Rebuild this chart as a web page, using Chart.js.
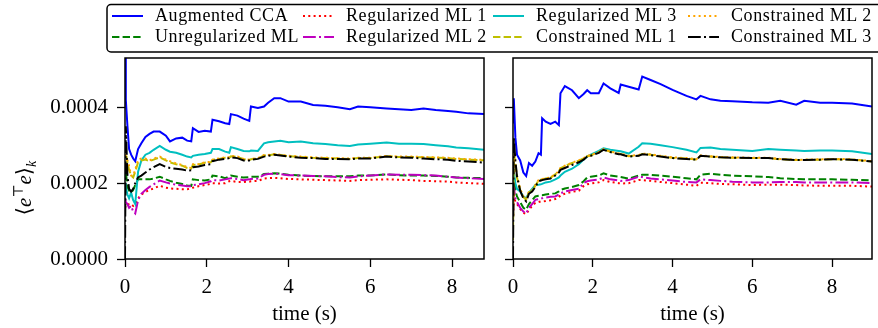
<!DOCTYPE html>
<html>
<head>
<meta charset="utf-8">
<script src="https://cdn.jsdelivr.net/npm/chart.js@4.4.1/dist/chart.umd.min.js"></script>
<style>
  body { margin: 0; background: #fff; overflow: hidden; }
  #wrap { position: relative; width: 878px; height: 328px; }
  #wrap canvas, #wrap svg { position: absolute; left: 0; top: 0; }
</style>
</head>
<body>
<div id="wrap">
  <canvas id="leftChart" width="878" height="328"></canvas>
  <canvas id="rightChart" width="878" height="328"></canvas>
  <svg id="overlay" width="878" height="328" xmlns="http://www.w3.org/2000/svg"></svg>
</div>
<script>
// series in plotting order
const seriesNames = ["Augmented CCA", "Unregularized ML", "Regularized ML 1", "Regularized ML 2",
  "Regularized ML 3", "Constrained ML 1", "Constrained ML 2", "Constrained ML 3"];

const xTicks = [0, 2, 4, 6, 8];
const xTickLabels = ["0", "2", "4", "6", "8"];
const yTicks = [0, 0.0002, 0.0004];
const yTickLabels = ["0.0000", "0.0002", "0.0004"];

// left panel, time (s)
const tLeft = [0, 0.02, 0.06, 0.1, 0.15, 0.2, 0.25, 0.32, 0.4, 0.5, 0.6, 0.7, 0.85, 1.0, 1.1, 1.25, 1.4, 1.52, 1.62, 1.66,
  1.8, 1.95, 2.1, 2.14, 2.3, 2.45, 2.55, 2.59, 2.75, 2.9, 3.04, 3.08, 3.25, 3.4, 3.5, 3.65, 3.8, 4.0, 4.3, 4.6,
  4.9, 5.2, 5.5, 5.7, 6.0, 6.4, 6.7, 7.0, 7.3, 7.6, 7.9, 8.1, 8.4, 8.8];

const augCcaLeft = [5.6e-4, 4.2e-4, 3.5e-4, 2.9e-4, 2.75e-4, 2.65e-4, 2.58e-4, 2.9e-4, 3.05e-4, 3.22e-4, 3.3e-4, 3.36e-4, 3.36e-4, 3.25e-4, 3.1e-4, 3.18e-4, 3.2e-4, 3.12e-4, 3.1e-4, 3.45e-4,
  3.35e-4, 3.38e-4, 3.36e-4, 3.67e-4, 3.63e-4, 3.58e-4, 3.56e-4, 3.82e-4, 3.78e-4, 3.7e-4, 3.64e-4, 4.02e-4, 3.98e-4, 4.02e-4, 4.12e-4, 4.24e-4, 4.24e-4, 4.15e-4, 4.15e-4, 4.06e-4,
  4.04e-4, 4.0e-4, 3.95e-4, 4.02e-4, 4.0e-4, 3.97e-4, 3.95e-4, 3.93e-4, 3.97e-4, 3.93e-4, 3.9e-4, 3.88e-4, 3.84e-4, 3.82e-4];
const unregLeft = [1.8e-4, 2.3e-4, 1.9e-4, 1.8e-4, 1.75e-4, 1.82e-4, 1.95e-4, 2.1e-4, 2.1e-4, 2.1e-4, 2.1e-4, 2.12e-4, 2.17e-4, 2.1e-4, 2.06e-4, 2.01e-4, 1.98e-4, 1.94e-4, 1.93e-4, 2.1e-4,
  2.08e-4, 2.07e-4, 2.1e-4, 2.2e-4, 2.18e-4, 2.13e-4, 2.18e-4, 2.2e-4, 2.17e-4, 2.15e-4, 2.16e-4, 2.17e-4, 2.17e-4, 2.24e-4, 2.25e-4, 2.26e-4, 2.25e-4, 2.22e-4, 2.2e-4, 2.19e-4,
  2.18e-4, 2.18e-4, 2.18e-4, 2.2e-4, 2.2e-4, 2.23e-4, 2.21e-4, 2.2e-4, 2.2e-4, 2.19e-4, 2.17e-4, 2.15e-4, 2.14e-4, 2.13e-4];
const reg1Left = [1.4e-4, 1.35e-4, 1.4e-4, 1.45e-4, 1.45e-4, 1.4e-4, 1.45e-4, 1.6e-4, 1.7e-4, 1.77e-4, 1.82e-4, 1.86e-4, 1.93e-4, 1.88e-4, 1.86e-4, 1.85e-4, 1.84e-4, 1.84e-4, 1.86e-4, 1.88e-4,
  1.92e-4, 1.95e-4, 1.98e-4, 2.0e-4, 1.99e-4, 2.0e-4, 2.05e-4, 2.06e-4, 2.03e-4, 2.03e-4, 2.04e-4, 2.05e-4, 2.06e-4, 2.12e-4, 2.13e-4, 2.14e-4, 2.13e-4, 2.11e-4, 2.1e-4, 2.09e-4,
  2.08e-4, 2.07e-4, 2.06e-4, 2.08e-4, 2.09e-4, 2.1e-4, 2.09e-4, 2.08e-4, 2.06e-4, 2.05e-4, 2.04e-4, 2.02e-4, 2.0e-4, 1.98e-4];
const reg2Left = [1.6e-4, 1.5e-4, 1.45e-4, 1.35e-4, 1.4e-4, 1.25e-4, 1.2e-4, 1.55e-4, 1.72e-4, 1.82e-4, 1.9e-4, 1.97e-4, 2.07e-4, 2.02e-4, 1.99e-4, 1.96e-4, 1.94e-4, 1.92e-4, 1.92e-4, 1.95e-4,
  1.97e-4, 2.0e-4, 2.05e-4, 2.08e-4, 2.07e-4, 2.1e-4, 2.12e-4, 2.13e-4, 2.11e-4, 2.08e-4, 2.1e-4, 2.11e-4, 2.12e-4, 2.22e-4, 2.24e-4, 2.25e-4, 2.24e-4, 2.21e-4, 2.2e-4, 2.19e-4,
  2.18e-4, 2.16e-4, 2.15e-4, 2.18e-4, 2.2e-4, 2.23e-4, 2.22e-4, 2.22e-4, 2.21e-4, 2.2e-4, 2.17e-4, 2.15e-4, 2.13e-4, 2.11e-4];
const reg3Left = [2.0e-4, 1.9e-4, 1.7e-4, 1.6e-4, 1.75e-4, 1.55e-4, 1.45e-4, 2.3e-4, 2.6e-4, 2.75e-4, 2.8e-4, 2.88e-4, 2.98e-4, 2.88e-4, 2.83e-4, 2.8e-4, 2.75e-4, 2.7e-4, 2.68e-4, 2.72e-4,
  2.75e-4, 2.77e-4, 2.8e-4, 2.9e-4, 2.9e-4, 2.83e-4, 2.8e-4, 2.95e-4, 2.9e-4, 2.85e-4, 2.84e-4, 2.86e-4, 2.85e-4, 3.05e-4, 3.08e-4, 3.1e-4, 3.12e-4, 3.08e-4, 3.1e-4, 3.05e-4,
  3.03e-4, 3.0e-4, 2.98e-4, 3.02e-4, 3.04e-4, 3.07e-4, 3.04e-4, 3.04e-4, 3.03e-4, 3.0e-4, 2.97e-4, 2.94e-4, 2.92e-4, 2.88e-4];
const con1Left = [3.0e-4, 2.8e-4, 2.55e-4, 2.35e-4, 2.2e-4, 2.15e-4, 2.3e-4, 2.55e-4, 2.6e-4, 2.62e-4, 2.58e-4, 2.62e-4, 2.68e-4, 2.6e-4, 2.55e-4, 2.5e-4, 2.46e-4, 2.4e-4, 2.38e-4, 2.48e-4,
  2.49e-4, 2.54e-4, 2.55e-4, 2.61e-4, 2.64e-4, 2.67e-4, 2.67e-4, 2.71e-4, 2.69e-4, 2.63e-4, 2.61e-4, 2.63e-4, 2.65e-4, 2.73e-4, 2.73e-4, 2.76e-4, 2.74e-4, 2.71e-4, 2.69e-4, 2.67e-4,
  2.66e-4, 2.65e-4, 2.64e-4, 2.66e-4, 2.66e-4, 2.71e-4, 2.69e-4, 2.69e-4, 2.68e-4, 2.67e-4, 2.66e-4, 2.64e-4, 2.62e-4, 2.6e-4];
const con2Left = [2.9e-4, 2.7e-4, 2.6e-4, 2.45e-4, 2.2e-4, 2.2e-4, 2.35e-4, 2.62e-4, 2.65e-4, 2.65e-4, 2.6e-4, 2.65e-4, 2.7e-4, 2.62e-4, 2.58e-4, 2.52e-4, 2.48e-4, 2.42e-4, 2.4e-4, 2.5e-4,
  2.5e-4, 2.55e-4, 2.56e-4, 2.62e-4, 2.65e-4, 2.68e-4, 2.68e-4, 2.72e-4, 2.7e-4, 2.64e-4, 2.62e-4, 2.64e-4, 2.66e-4, 2.74e-4, 2.74e-4, 2.77e-4, 2.75e-4, 2.72e-4, 2.7e-4, 2.68e-4,
  2.67e-4, 2.66e-4, 2.65e-4, 2.67e-4, 2.67e-4, 2.72e-4, 2.7e-4, 2.7e-4, 2.69e-4, 2.68e-4, 2.67e-4, 2.65e-4, 2.63e-4, 2.61e-4];
const con3Left = [0, 3.5e-4, 2.2e-4, 1.85e-4, 1.78e-4, 1.85e-4, 2.0e-4, 2.15e-4, 2.2e-4, 2.28e-4, 2.36e-4, 2.42e-4, 2.5e-4, 2.43e-4, 2.4e-4, 2.38e-4, 2.36e-4, 2.33e-4, 2.34e-4, 2.42e-4,
  2.44e-4, 2.48e-4, 2.5e-4, 2.58e-4, 2.62e-4, 2.64e-4, 2.66e-4, 2.68e-4, 2.66e-4, 2.6e-4, 2.6e-4, 2.62e-4, 2.64e-4, 2.7e-4, 2.72e-4, 2.75e-4, 2.73e-4, 2.7e-4, 2.67e-4, 2.66e-4,
  2.64e-4, 2.64e-4, 2.63e-4, 2.65e-4, 2.65e-4, 2.7e-4, 2.68e-4, 2.67e-4, 2.65e-4, 2.63e-4, 2.62e-4, 2.59e-4, 2.57e-4, 2.54e-4];

// right panel, time (s)
const tRight = [0, 0.02, 0.06, 0.1, 0.18, 0.26, 0.33, 0.4, 0.48, 0.56, 0.64, 0.7, 0.73, 0.82, 0.94, 1.06, 1.15, 1.19, 1.3, 1.48,
  1.65, 1.77, 1.86, 1.95, 2.15, 2.27, 2.44, 2.65, 2.7, 2.9, 3.15, 3.24, 3.45, 3.7, 4.0, 4.35, 4.6, 4.7, 4.95, 5.2,
  5.5, 6.0, 6.4, 6.7, 7.1, 7.3, 7.7, 8.0, 8.5, 9.0];

const augCcaRight = [3.6e-4, 4.24e-4, 3.2e-4, 2.75e-4, 2.6e-4, 2.28e-4, 2.19e-4, 2.53e-4, 2.46e-4, 2.57e-4, 2.79e-4, 2.75e-4, 3.71e-4, 3.62e-4, 3.56e-4, 3.62e-4, 3.53e-4, 4.37e-4, 4.56e-4, 4.45e-4,
  4.24e-4, 4.35e-4, 4.45e-4, 4.37e-4, 4.37e-4, 4.63e-4, 4.5e-4, 4.38e-4, 4.6e-4, 4.54e-4, 4.47e-4, 4.81e-4, 4.72e-4, 4.61e-4, 4.46e-4, 4.3e-4, 4.21e-4, 4.3e-4, 4.21e-4, 4.17e-4,
  4.16e-4, 4.13e-4, 4.12e-4, 4.17e-4, 4.07e-4, 4.17e-4, 4.12e-4, 4.12e-4, 4.1e-4, 4.02e-4];
const unregRight = [1.0e-4, 2.2e-4, 1.8e-4, 1.65e-4, 1.5e-4, 1.35e-4, 1.3e-4, 1.45e-4, 1.55e-4, 1.65e-4, 1.67e-4, 1.68e-4, 1.68e-4, 1.7e-4, 1.72e-4, 1.73e-4, 1.78e-4, 1.82e-4, 1.86e-4, 1.9e-4,
  1.95e-4, 2.05e-4, 2.15e-4, 2.17e-4, 2.2e-4, 2.26e-4, 2.2e-4, 2.17e-4, 2.16e-4, 2.12e-4, 2.2e-4, 2.22e-4, 2.22e-4, 2.2e-4, 2.17e-4, 2.13e-4, 2.1e-4, 2.22e-4, 2.25e-4, 2.22e-4,
  2.2e-4, 2.18e-4, 2.16e-4, 2.13e-4, 2.11e-4, 2.1e-4, 2.1e-4, 2.1e-4, 2.09e-4, 2.07e-4];
const reg1Right = [1.0e-4, 1.7e-4, 1.5e-4, 1.45e-4, 1.32e-4, 1.22e-4, 1.18e-4, 1.3e-4, 1.4e-4, 1.48e-4, 1.5e-4, 1.52e-4, 1.52e-4, 1.53e-4, 1.55e-4, 1.58e-4, 1.63e-4, 1.68e-4, 1.72e-4, 1.77e-4,
  1.8e-4, 1.92e-4, 1.97e-4, 1.99e-4, 2.02e-4, 2.08e-4, 2.03e-4, 2.0e-4, 1.99e-4, 2.0e-4, 2.08e-4, 2.08e-4, 2.06e-4, 2.03e-4, 2.0e-4, 1.96e-4, 1.93e-4, 2.01e-4, 2.0e-4, 1.98e-4,
  1.97e-4, 1.95e-4, 1.96e-4, 1.96e-4, 1.95e-4, 1.94e-4, 1.93e-4, 1.93e-4, 1.93e-4, 1.91e-4];
const reg2Right = [1.2e-4, 1.9e-4, 1.6e-4, 1.5e-4, 1.35e-4, 1.25e-4, 1.2e-4, 1.35e-4, 1.45e-4, 1.56e-4, 1.58e-4, 1.6e-4, 1.6e-4, 1.62e-4, 1.64e-4, 1.65e-4, 1.7e-4, 1.73e-4, 1.78e-4, 1.82e-4,
  1.85e-4, 2.0e-4, 2.05e-4, 2.07e-4, 2.1e-4, 2.15e-4, 2.1e-4, 2.07e-4, 2.06e-4, 2.08e-4, 2.17e-4, 2.16e-4, 2.12e-4, 2.1e-4, 2.07e-4, 2.03e-4, 2.02e-4, 2.1e-4, 2.08e-4, 2.06e-4,
  2.04e-4, 2.02e-4, 2.02e-4, 2.03e-4, 2.03e-4, 2.02e-4, 2.02e-4, 2.02e-4, 2.02e-4, 2.0e-4];
const reg3Right = [2.0e-4, 2.3e-4, 2.0e-4, 1.85e-4, 1.78e-4, 1.65e-4, 1.6e-4, 1.75e-4, 1.85e-4, 1.95e-4, 1.96e-4, 1.97e-4, 1.98e-4, 2.02e-4, 2.04e-4, 2.1e-4, 2.15e-4, 2.2e-4, 2.3e-4, 2.38e-4,
  2.5e-4, 2.62e-4, 2.7e-4, 2.75e-4, 2.85e-4, 2.92e-4, 2.88e-4, 2.85e-4, 2.84e-4, 2.78e-4, 2.96e-4, 3.05e-4, 3.04e-4, 3.0e-4, 2.95e-4, 2.88e-4, 2.81e-4, 2.93e-4, 2.94e-4, 2.9e-4,
  2.88e-4, 2.85e-4, 2.9e-4, 2.88e-4, 2.86e-4, 2.85e-4, 2.86e-4, 2.86e-4, 2.84e-4, 2.77e-4];
const con1Right = [0.5e-4, 2.9e-4, 2.45e-4, 2.15e-4, 1.82e-4, 1.63e-4, 1.56e-4, 1.76e-4, 1.8e-4, 1.93e-4, 2.07e-4, 2.09e-4, 2.1e-4, 2.12e-4, 2.14e-4, 2.23e-4, 2.31e-4, 2.39e-4, 2.45e-4, 2.53e-4,
  2.59e-4, 2.65e-4, 2.71e-4, 2.73e-4, 2.81e-4, 2.89e-4, 2.83e-4, 2.77e-4, 2.77e-4, 2.71e-4, 2.73e-4, 2.77e-4, 2.75e-4, 2.71e-4, 2.67e-4, 2.65e-4, 2.62e-4, 2.72e-4, 2.7e-4, 2.68e-4,
  2.67e-4, 2.66e-4, 2.66e-4, 2.63e-4, 2.61e-4, 2.61e-4, 2.62e-4, 2.63e-4, 2.62e-4, 2.57e-4];
const con2Right = [1.0e-4, 3.0e-4, 2.5e-4, 2.2e-4, 1.85e-4, 1.65e-4, 1.58e-4, 1.78e-4, 1.82e-4, 1.95e-4, 2.08e-4, 2.1e-4, 2.11e-4, 2.13e-4, 2.15e-4, 2.24e-4, 2.32e-4, 2.4e-4, 2.46e-4, 2.54e-4,
  2.6e-4, 2.66e-4, 2.72e-4, 2.74e-4, 2.82e-4, 2.9e-4, 2.84e-4, 2.78e-4, 2.78e-4, 2.72e-4, 2.74e-4, 2.78e-4, 2.76e-4, 2.72e-4, 2.68e-4, 2.66e-4, 2.63e-4, 2.73e-4, 2.71e-4, 2.69e-4,
  2.68e-4, 2.67e-4, 2.67e-4, 2.64e-4, 2.62e-4, 2.62e-4, 2.63e-4, 2.64e-4, 2.63e-4, 2.58e-4];
const con3Right = [0, 3.2e-4, 2.6e-4, 2.18e-4, 1.8e-4, 1.6e-4, 1.52e-4, 1.72e-4, 1.78e-4, 1.9e-4, 2.05e-4, 2.07e-4, 2.08e-4, 2.1e-4, 2.12e-4, 2.2e-4, 2.28e-4, 2.35e-4, 2.4e-4, 2.48e-4,
  2.55e-4, 2.62e-4, 2.7e-4, 2.72e-4, 2.8e-4, 2.88e-4, 2.82e-4, 2.76e-4, 2.76e-4, 2.7e-4, 2.72e-4, 2.76e-4, 2.74e-4, 2.7e-4, 2.66e-4, 2.64e-4, 2.62e-4, 2.72e-4, 2.7e-4, 2.68e-4,
  2.67e-4, 2.66e-4, 2.66e-4, 2.63e-4, 2.61e-4, 2.61e-4, 2.62e-4, 2.63e-4, 2.62e-4, 2.57e-4];

const lineColors = ["#0000ff", "#008000", "#ff0000", "#bf00bf", "#00bfbf", "#bfbf00", "#ffa500", "#000000"];
const lineDashes = [[], [7.4, 3.2], [2, 3.3], [12.8, 3.2, 2, 3.2], [], [7.4, 3.2], [2, 3.3], [12.8, 3.2, 2, 3.2]];

const serif = "'Liberation Serif', 'DejaVu Serif', serif";
const tickFont = { family: serif, size: 21 };

// box around the plot area, like matplotlib spines
const frame = {
  id: "frame",
  afterDatasetsDraw: function (chart) {
    const a = chart.chartArea, ctx = chart.ctx;
    ctx.save();
    ctx.strokeStyle = "#000";
    ctx.lineWidth = 1.5;
    ctx.strokeRect(a.left, a.top, a.right - a.left, a.bottom - a.top);
    ctx.restore();
  }
};

function makeChart(id, times, series, xMax, pad, yWidth, showYLabels) {
  const datasets = series.map(function (vals, i) {
    return {
      label: seriesNames[i],
      data: vals.map(function (v, j) { return { x: times[j], y: v }; }),
      borderColor: lineColors[i],
      borderDash: lineDashes[i],
      borderWidth: 2,
      pointRadius: 0,
      tension: 0,
      fill: false,
      order: series.length - i
    };
  });
  return new Chart(document.getElementById(id), {
    type: "line",
    data: { datasets: datasets },
    options: {
      responsive: false,
      animation: false,
      events: [],
      layout: { padding: pad },
      plugins: { legend: { display: false }, tooltip: { enabled: false } },
      scales: {
        x: {
          type: "linear", min: 0, max: xMax,
          afterBuildTicks: function (s) { s.ticks = xTicks.map(function (v) { return { value: v }; }); },
          afterFit: function (s) { s.height = 69; },
          ticks: {
            callback: function (v, i) { return xTickLabels[i]; },
            font: tickFont, color: "#000", padding: 8, maxRotation: 0, autoSkip: false
          },
          grid: { drawOnChartArea: false, drawTicks: true, tickLength: 8, tickColor: "#000", tickWidth: 1.3 },
          border: { display: false },
          title: { display: true, text: "time (s)", color: "#000", font: { family: serif, size: 21 }, padding: { top: 0, bottom: 1 } }
        },
        y: {
          type: "linear", min: 0, max: 0.00053,
          afterBuildTicks: function (s) { s.ticks = yTicks.map(function (v) { return { value: v }; }); },
          afterFit: function (s) { s.width = yWidth; },
          ticks: {
            callback: function (v, i) { return showYLabels ? yTickLabels[i] : ""; },
            font: tickFont, color: "#000", padding: 9
          },
          grid: { drawOnChartArea: false, drawTicks: true, tickLength: 8, tickColor: "#000", tickWidth: 1.3 },
          border: { display: false }
        }
      }
    },
    plugins: [frame]
  });
}

makeChart("leftChart", tLeft,
  [augCcaLeft, unregLeft, reg1Left, reg2Left, reg3Left, con1Left, con2Left, con3Left],
  8.78, { left: 0, top: 58, right: 394, bottom: 0 }, 125, true);
makeChart("rightChart", tRight,
  [augCcaRight, unregRight, reg1Right, reg2Right, reg3Right, con1Right, con2Right, con3Right],
  9.0, { left: 503, top: 58, right: 6, bottom: 0 }, 10, false);

// legend (4 columns, filled column by column) and y label
const svg = document.getElementById("overlay");
const NS = "http://www.w3.org/2000/svg";
function el(tag, attrs, text) {
  const e = document.createElementNS(NS, tag);
  for (const k in attrs) e.setAttribute(k, attrs[k]);
  if (text) e.textContent = text;
  svg.appendChild(e);
  return e;
}
el("rect", { x: 107, y: 4.5, width: 800, height: 47.5, rx: 4, fill: "#fff", stroke: "#000", "stroke-width": 1.5 });
const legendCols = [112, 303, 493, 688];
const legendRows = [16, 37];
seriesNames.forEach(function (name, i) {
  const cx = legendCols[Math.floor(i / 2)], cy = legendRows[i % 2];
  el("line", { x1: cx, y1: cy, x2: cx + 31, y2: cy, stroke: lineColors[i], "stroke-width": 2,
    "stroke-dasharray": lineDashes[i].length ? lineDashes[i].join(" ") : "none" });
  el("text", { x: cx + 43, y: cy + 5, "font-family": serif, "font-size": 18, "letter-spacing": 0.6, fill: "#000" }, name);
});

const ylab = el("text", { transform: "translate(31,188) rotate(-90)", "text-anchor": "middle",
  "font-family": serif, "font-size": 21, fill: "#000" });
ylab.innerHTML = '\u27E8<tspan font-style="italic">e</tspan><tspan font-size="14" dy="-8">\u22A4</tspan>' +
  '<tspan font-style="italic" dy="8">e</tspan>\u27E9<tspan font-style="italic" font-size="14" dy="5">k</tspan>';
</script>
</body>
</html>
